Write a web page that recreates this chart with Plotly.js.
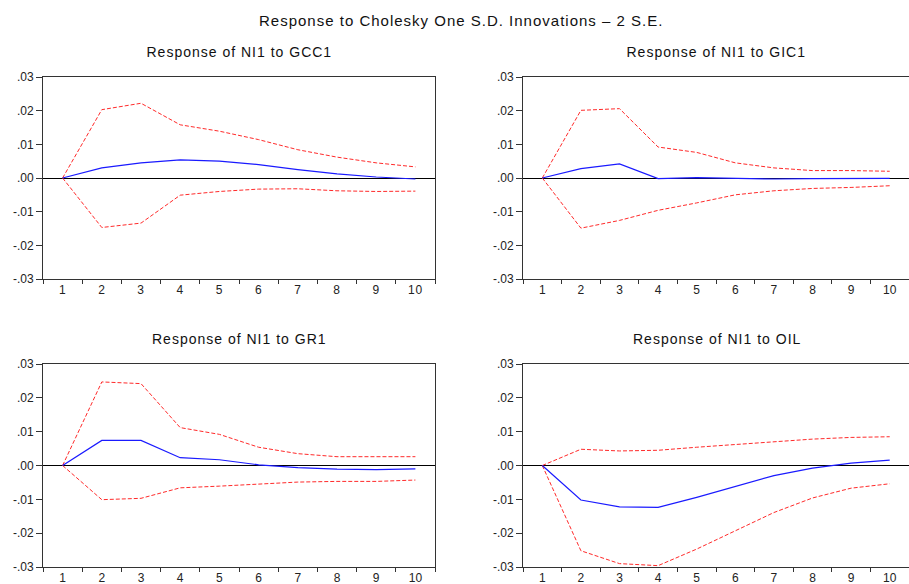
<!DOCTYPE html>
<html>
<head>
<meta charset="utf-8">
<script src="https://cdn.plot.ly/plotly-3.0.1.min.js"></script>
<style>
html,body{margin:0;padding:0;background:#fff;}
#chart{width:909px;height:584px;}
#chart .annotation-text{letter-spacing:1px;}
#chart .xtick text{letter-spacing:0.6px;}
</style>
</head>
<body>
<div id="chart"></div>
<script>
var periods = [1,2,3,4,5,6,7,8,9,10];
var yTickVals = [0.03,0.02,0.01,0,-0.01,-0.02,-0.03];
var yTickText = [".03",".02",".01",".00","-.01","-.02","-.03"];
var panelTitles = ["Response of NI1 to GCC1","Response of NI1 to GIC1","Response of NI1 to GR1","Response of NI1 to OIL"];
var mainTitle = "Response to Cholesky One S.D. Innovations \u2013 2 S.E.";

// GCC1
var gcc1Resp  = [0,0.0030,0.0045,0.0054,0.0050,0.0040,0.0025,0.0012,0.0003,-0.0003];
var gcc1Upper = [0,0.0203,0.0222,0.0158,0.0139,0.0114,0.0084,0.0062,0.0045,0.0033];
var gcc1Lower = [0,-0.0147,-0.0134,-0.0051,-0.0040,-0.0033,-0.0032,-0.0038,-0.0040,-0.0039];
// GIC1
var gic1Resp  = [0,0.0028,0.0042,-0.0002,0.0001,-0.0002,-0.0003,-0.0002,-0.0002,-0.0001];
var gic1Upper = [0,0.0201,0.0206,0.0092,0.0076,0.0045,0.0030,0.0022,0.0022,0.0020];
var gic1Lower = [0,-0.0149,-0.0126,-0.0096,-0.0074,-0.0050,-0.0038,-0.0031,-0.0028,-0.0023];
// GR1
var gr1Resp  = [0,0.0074,0.0074,0.0023,0.0017,0.0002,-0.0006,-0.0011,-0.0012,-0.0010];
var gr1Upper = [0,0.0247,0.0242,0.0112,0.0092,0.0054,0.0035,0.0026,0.0026,0.0026];
var gr1Lower = [0,-0.0101,-0.0097,-0.0066,-0.0061,-0.0056,-0.0049,-0.0047,-0.0047,-0.0043];
// OIL
var oilResp  = [0,-0.0102,-0.0122,-0.0124,-0.0094,-0.0062,-0.0030,-0.0008,0.0007,0.0016];
var oilUpper = [0,0.0048,0.0043,0.0045,0.0054,0.0062,0.0071,0.0078,0.0083,0.0085];
var oilLower = [0,-0.0252,-0.0290,-0.0296,-0.0247,-0.0193,-0.0139,-0.0096,-0.0067,-0.0054];

var panels = [
  [gcc1Resp,gcc1Upper,gcc1Lower],
  [gic1Resp,gic1Upper,gic1Lower],
  [gr1Resp,gr1Upper,gr1Lower],
  [oilResp,oilUpper,oilLower]
];

var W = 909, H = 584;
var xPix = [[43,435],[523,909]];
var xDom = xPix.map(function(p){return [p[0]/W, p[1]/W];});
var yDom = [[1-279/H,1-77/H],[1-567/H,1-364/H]];
var titleX = [239,716,239,717];
var titleY = [52,52,339,339];

// tick marks sit between periods (drawn on an overlaid axis)
var xTickMarks = [0.5,1.5,2.5,3.5,4.5,5.5,6.5,7.5,8.5,9.5,10.5];

var traces = [];
var layout = {
  width: W, height: H,
  margin: {l:0,r:0,t:0,b:0},
  paper_bgcolor: '#fff', plot_bgcolor: '#fff',
  showlegend: false,
  font: {family: 'Liberation Sans, Arial, sans-serif', color: '#222', size: 11},
  annotations: []
};

for (var i = 0; i < 4; i++) {
  var n = i + 1;
  var xa = 'x' + (n === 1 ? '' : n), ya = 'y' + (n === 1 ? '' : n);
  var xk = 'xaxis' + (n === 1 ? '' : n), yk = 'yaxis' + (n === 1 ? '' : n);
  var ox = 'x' + (n + 4), oxk = 'xaxis' + (n + 4);
  var col = i % 2, row = Math.floor(i / 2);
  var p = panels[i];
  traces.push({x: periods, y: p[1], xaxis: xa, yaxis: ya, mode: 'lines', line: {color: '#ff2a2a', width: 1, dash: '4px,2px'}, hoverinfo: 'none'});
  traces.push({x: periods, y: p[2], xaxis: xa, yaxis: ya, mode: 'lines', line: {color: '#ff2a2a', width: 1, dash: '4px,2px'}, hoverinfo: 'none'});
  traces.push({x: periods, y: p[0], xaxis: ox, yaxis: ya, mode: 'lines', line: {color: '#1a1aff', width: 1.2}, hoverinfo: 'none'});
  layout[xk] = {
    domain: xDom[col], anchor: ya, range: [0.5, 10.5],
    tickmode: 'array', tickvals: periods, ticktext: periods.map(String),
    ticks: '', ticklabelstandoff: 0,
    showgrid: false, zeroline: false,
    showline: true, linecolor: '#333', linewidth: 1, mirror: true,
    tickfont: {size: 12, color: '#222'}
  };
  layout[oxk] = {
    overlaying: xa, anchor: ya, side: 'bottom', range: [0.5, 10.5],
    tickmode: 'array', tickvals: xTickMarks,
    ticks: 'outside', ticklen: 4, tickcolor: '#333', tickwidth: 1,
    showticklabels: false, showgrid: false, zeroline: false, showline: false
  };
  layout[yk] = {
    domain: yDom[row], anchor: xa, range: [-0.03, 0.03],
    tickmode: 'array', tickvals: yTickVals, ticktext: yTickText,
    ticks: 'outside', ticklen: 6, tickcolor: '#333',
    showgrid: false, zeroline: true, zerolinecolor: '#000', zerolinewidth: 1,
    showline: true, linecolor: '#333', linewidth: 1, mirror: true,
    tickfont: {size: 12, color: '#222'}
  };
  layout.annotations.push({
    text: panelTitles[i], xref: 'paper', yref: 'paper',
    x: titleX[i] / W, y: 1 - titleY[i] / H, xanchor: 'center', yanchor: 'middle',
    showarrow: false, font: {size: 14, color: '#111'}
  });
}
layout.annotations.push({
  text: mainTitle, xref: 'paper', yref: 'paper',
  x: 461 / W, y: 1 - 20 / H, xanchor: 'center', yanchor: 'middle',
  showarrow: false, font: {size: 15, color: '#111'}
});

Plotly.newPlot('chart', traces, layout, {staticPlot: true});
</script>
</body>
</html>
